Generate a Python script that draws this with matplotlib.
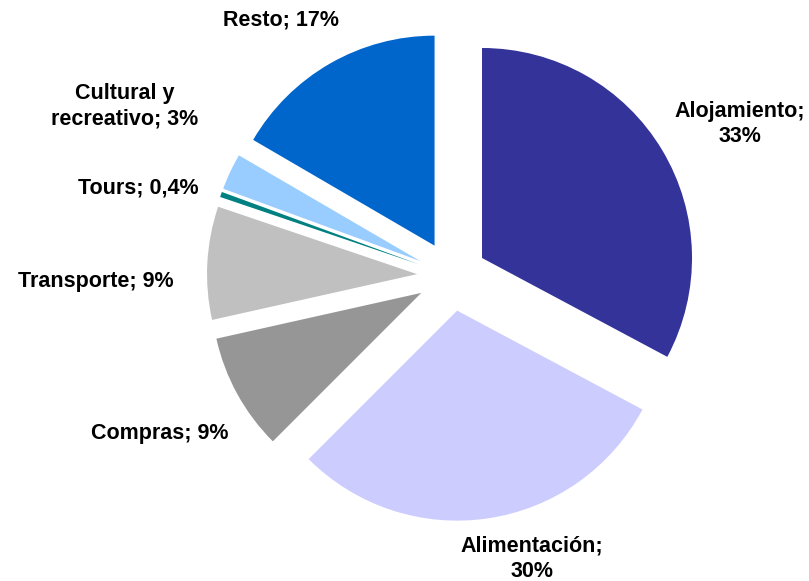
import matplotlib.pyplot as plt

# gasto por categoria (%)
categorias = ["Alojamiento", "Alimentación", "Compras", "Transporte",
              "Tours", "Cultural y recreativo", "Resto"]
valores = [32.8, 29.7, 9.0, 8.7, 0.4, 2.8, 16.6]
etiquetas = ["Alojamiento;\n33%", "Alimentación;\n30%", "Compras; 9%",
             "Transporte; 9%", "Tours; 0,4%", "Cultural y\nrecreativo; 3%",
             "Resto; 17%"]
colores = ["#333399", "#CCCCFF", "#969696", "#C0C0C0",
           "#008080", "#99CCFF", "#0066CC"]

# posiciones de las etiquetas (px)
pos_etiquetas = [(740, 457), (532, 22), (160, 148), (96, 300),
                 (138, 393), (125, 475), (281, 561)]

fig = plt.figure(figsize=(8.09, 5.81), dpi=100)
ax = fig.add_axes([0, 0, 1, 1])

ax.pie(valores, colors=colores, startangle=90, counterclock=False,
       radius=210, center=(452, 305), explode=[35] * len(valores),
       wedgeprops=dict(linewidth=0), frame=True)
ax.set_xlim(0, 809)
ax.set_ylim(0, 581)
ax.set_aspect("equal")
ax.axis("off")

for txt, (x, y) in zip(etiquetas, pos_etiquetas):
    ax.text(x, y, txt, ha="center", va="center", fontsize=15.5,
            fontweight="bold", family="Liberation Sans", linespacing=1.3)

fig.savefig("out.png", dpi=100)
